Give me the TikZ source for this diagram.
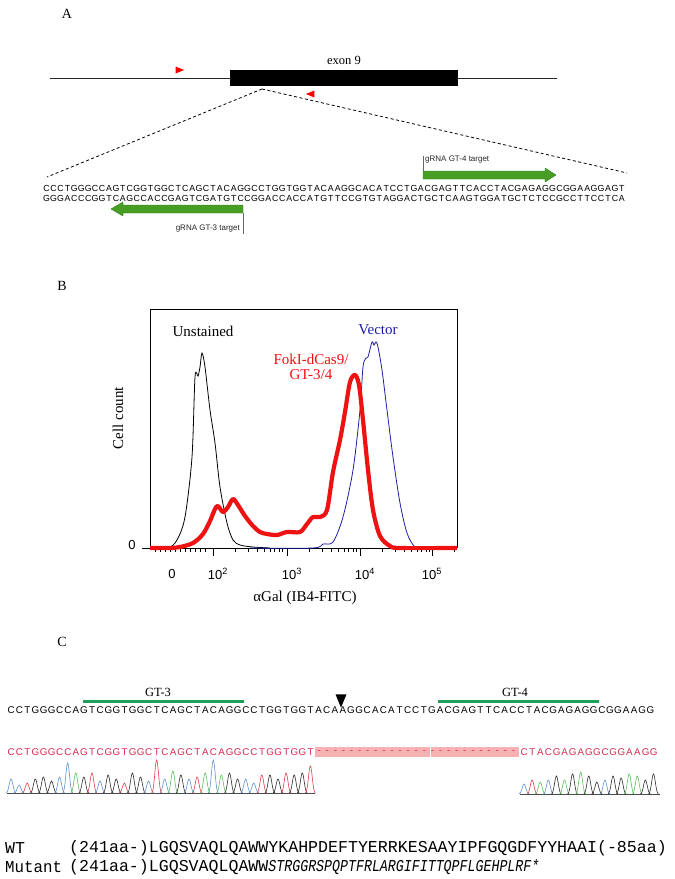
\documentclass[tikz,border=0pt]{standalone}
\usepackage{fontspec}
\setmainfont{Liberation Serif}
\setsansfont{Liberation Sans}
\setmonofont{Liberation Mono}
\usepackage{graphicx}
\usetikzlibrary{
    arrows.meta,
    positioning,
    shapes.geometric,
    calc
}
\definecolor{guidegreen}{RGB}{72,158,36}
\definecolor{guideedge}{RGB}{50,125,25}
\definecolor{bargreen}{RGB}{30,160,90}
\definecolor{fokired}{RGB}{238,18,18}
\definecolor{vecblue}{RGB}{30,30,165}
\definecolor{seqred}{RGB}{215,40,85}
\definecolor{delpink}{RGB}{246,178,178}
\definecolor{trA}{RGB}{95,190,95}
\definecolor{trC}{RGB}{95,145,205}
\definecolor{trG}{RGB}{45,45,45}
\definecolor{trT}{RGB}{215,65,75}

% fixed pitch for sequence letters
\newlength\seqpitch
\def\seqloop#1{\ifx#1\relax\else\makebox[\seqpitch]{#1}\expandafter\seqloop\fi}
\newcommand\pitched[2]{\setlength\seqpitch{#1}\seqloop#2\relax}
% one trace peak: x, base, height, colour
\newcommand\tracepeak[4]{%
  \draw[#4, line width=0.6pt] ({#1-5},#2) .. controls ({#1-2.5},#2) and ({#1-1.5},{#2-#3}) .. (#1,{#2-#3})
        .. controls ({#1+1.5},{#2-#3}) and ({#1+2.5},#2) .. ({#1+5},#2);}

\begin{document}
\begin{tikzpicture}[
    x=1pt, y=-1pt,
    panel/.style={font=\fontsize{14}{14}\selectfont, inner sep=0pt},
    exon/.style={rectangle, fill=black, minimum width=228pt, minimum height=16pt, inner sep=0pt},
    gene/.style={line width=0.8pt, black!85},
    primer/.style={isosceles triangle, fill=red, inner sep=0pt, minimum height=7pt, minimum width=7pt},
    zoomline/.style={dash pattern=on 3pt off 2.5pt, line width=0.8pt},
    seqA/.style={font=\fontsize{8.8}{9}\sffamily, inner sep=0pt, anchor=west},
    guide/.style={fill=guidegreen, draw=guideedge, line width=0.4pt},
    guidelabel/.style={font=\fontsize{8}{8}\sffamily, inner sep=0pt, text=black!85},
    flowlabel/.style={font=\fontsize{15}{15}\selectfont, inner sep=0pt},
    ticklabel/.style={font=\fontsize{13}{13}\sffamily, inner sep=0pt},
    seqC/.style={font=\fontsize{9.8}{10}\sffamily, inner sep=0pt, anchor=west},
    gtlabel/.style={font=\fontsize{12.5}{12.5}\selectfont, inner sep=0pt},
    gtbar/.style={bargreen, line width=3pt},
    mono/.style={font=\fontsize{16.6}{16.6}\ttfamily, inner sep=0pt, anchor=west}
]
\path[use as bounding box, fill=white] (0,0) rectangle (675,879);

% Panel A
\node[panel] (labA) at (67,14) {A};
\node[exon] (exon) at (344,78) {};
\node[above=5pt of exon, font=\fontsize{12.5}{12.5}\selectfont, inner sep=0pt] (exonlabel) {exon 9};
\coordinate (genestart) at (50,78);
\coordinate (geneend) at (557,78);
\draw[gene] (genestart) -- (exon.west);
\draw[gene] (exon.east) -- (geneend);
\node[primer] (fwd) at (178,70) {};
\node[primer, shape border rotate=180] (rev) at (312,94) {};

\node[seqA] (topstrand) at (43,188) {\pitched{6.93pt}{CCCTGGGCCAGTCGGTGGCTCAGCTACAGGCCTGGTGGTACAAGGCACATCCTGACGAGTTCACCTACGAGAGGCGGAAGGAGT}};
\node[seqA] (botstrand) at (43,198) {\pitched{6.93pt}{GGGACCCGGTCAGCCACCGAGTCGATGTCCGGACCACCATGTTCCGTGTAGGACTGCTCAAGTGGATGCTCTCCGCCTTCCTCA}};

\coordinate (cut) at (262,89);
\coordinate (seqleft) at (47,177);
\coordinate (seqright) at (627,173);
\draw[zoomline] (cut) -- (seqleft);
\draw[zoomline] (cut) -- (seqright);

% gRNA targets
\draw[guide] (423,171) -- (545,171) -- (545,168) -- (556,175) -- (545,182) -- (545,179) -- (423,179) -- cycle;
\draw[black!60, line width=0.4pt] (423,171) -- (423,156);
\node[guidelabel, anchor=west] (gt4name) at (425,160) {gRNA GT-4 target};
\draw[guide] (243,205) -- (123,205) -- (123,202) -- (111,209) -- (123,216) -- (123,213) -- (243,213) -- cycle;
\draw[black!60, line width=0.4pt] (243,213) -- (243,234);
\node[guidelabel, anchor=east] (gt3name) at (240,229) {gRNA GT-3 target};

% Panel B
\node[panel] (labB) at (62,286) {B};
\draw[line width=0.9pt] (150,548) -- (150,309) -- (457,309) -- (457,548);
\draw[line width=1pt] (142,548) -- (457,548);
\foreach \t in {155,160,...,208} \draw[line width=0.6pt] (\t,548) -- (\t,552);
\foreach \d in {213,287,360} {
  \draw[line width=0.8pt] (\d,548) -- (\d,556);
  \foreach \k in {2,...,9} \draw[line width=0.6pt] ({\d+73*log10(\k)},548) -- ({\d+73*log10(\k)},552);
}
\draw[line width=0.8pt] (432,548) -- (432,556);
\draw[line width=0.6pt] ({432+73*log10(2)},548) -- ({432+73*log10(2)},552);

\node[ticklabel] (zero) at (132,545) {0};
\node[ticklabel] (t0) at (172,574) {0};
\node[ticklabel] (t2) at (218,574) {10\textsuperscript{2}};
\node[ticklabel] (t3) at (292,574) {10\textsuperscript{3}};
\node[ticklabel] (t4) at (365,574) {10\textsuperscript{4}};
\node[ticklabel] (t5) at (432,574) {10\textsuperscript{5}};
\node[flowlabel] (xlab) at (305,598) {αGal (IB4-FITC)};
\node[flowlabel, rotate=90] (ylab) at (118,418) {Cell count};

\draw[black, line width=0.8pt] plot[smooth, tension=0.5] coordinates {
  (150,548) (168,548) (177,540) (185,517) (192,457) (195,377) (198,376) (200,367) (202,353)
  (205,367) (210,410) (215,443) (220,487) (227,523) (233,540) (240,545) (253,547) (270,548)};
\draw[vecblue, line width=0.8pt] plot[smooth, tension=0.5] coordinates {
  (250,548) (313,548) (323,544) (333,542) (343,517) (353,470) (360,410) (363,367) (366,358)
  (368,357) (372,342) (374,345) (376,342) (378,347) (382,370) (387,410) (393,457) (400,503)
  (407,533) (415,547) (425,548)};
\draw[fokired, line width=4.2pt, line join=round] plot[smooth, tension=0.5] coordinates {
  (150,548) (170,548) (180,547) (193,543) (203,534) (210,521) (215,509) (218,506) (223,512)
  (228,507) (233,499) (238,505) (245,516) (253,526) (260,532) (267,534) (277,535) (287,532)
  (300,532) (307,524) (313,517) (320,517) (327,510) (333,472) (340,440) (345,412) (350,382)
  (355,375) (359,385) (363,420) (368,470) (373,510) (380,536) (390,546) (400,548) (457,548)};

\node[flowlabel] (unst) at (203,331) {Unstained};
\node[flowlabel, text=vecblue] (vect) at (378,330) {Vector};
\node[flowlabel, text=fokired, align=center] (foki) at (311,367) {FokI-dCas9/\\GT-3/4};

% Panel C
\node[panel] (labC) at (62,642) {C};
\node[gtlabel] (gt3) at (158,692) {GT-3};
\draw[gtbar] (83,701) -- (244,701);
\node[gtlabel] (gt4) at (515,692) {GT-4};
\draw[gtbar] (438,701) -- (599,701);
\node[isosceles triangle, shape border rotate=-90, fill=black, inner sep=0pt,
      minimum height=10pt, minimum width=11pt] (cutmark) at (341,698) {};

\node[seqC] (wtseqC) at (7,710) {\pitched{8.09pt}{CCTGGGCCAGTCGGTGGCTCAGCTACAGGCCTGGTGGTACAAGGCACATCCTGACGAGTTCACCTACGAGAGGCGGAAGG}};

\fill[delpink] (315,747) rectangle (430,757);
\fill[delpink] (431,747) rectangle (519,757);
\node[seqC, text=seqred] (mutleft) at (7,752) {\pitched{8.09pt}{CCTGGGCCAGTCGGTGGCTCAGCTACAGGCCTGGTGGT}};
\node[seqC, text=seqred] (gap) at (315,752) {\pitched{8.09pt}{-------------------------}};
\node[seqC, text=seqred] (mutright) at (520,752) {\pitched{8.09pt}{CTACGAGAGGCGGAAGG}};

% chromatogram traces
\draw[black!70, line width=0.6pt] (7,793) -- (315,793);
\foreach \b/\h [count=\i] in {C/14,C/8,T/10,G/14,G/16,G/12,C/16,C/30,A/20,G/16,T/20,C/12,G/18,
    G/14,T/10,G/20,G/16,C/12,T/33,C/14,A/22,G/18,C/14,T/16,A/20,C/33,A/18,G/20,G/14,C/14,C/10,
    T/18,G/18,G/14,T/20,G/18,G/20,T/27} {
  \pgfmathsetmacro\px{7+8.09*(\i-0.5)}
  \tracepeak{\px}{793}{\h}{tr\b}
}
\draw[black!70, line width=0.6pt] (520,794) -- (660,794);
\foreach \b/\h [count=\i] in {C/10,T/14,A/12,C/14,G/18,A/14,G/20,A/22,G/18,G/12,C/14,G/18,
    G/16,A/20,A/18,G/14,G/20} {
  \pgfmathsetmacro\px{520+8.09*(\i-0.5)}
  \tracepeak{\px}{794}{\h}{tr\b}
}

% protein
\node[mono] (wtname) at (5,848) {WT};
\node[mono] (wtprot) at (69,848) {(241aa-)LGQSVAQLQAWWYKAHPDEFTYERRKESAAYIPFGQGDFYYHAAI(-85aa)};
\node[mono] (mutname) at (5,867) {\scalebox{0.95}[1]{Mutant}};
\node[mono] (mutprot) at (69,867) {(241aa-)LGQSVAQLQAWW\scalebox{0.8}[1]{\itshape STRGGRSPQPTFRLARGIFITTQPFLGEHPLRF*}};

\end{tikzpicture}
\end{document}
